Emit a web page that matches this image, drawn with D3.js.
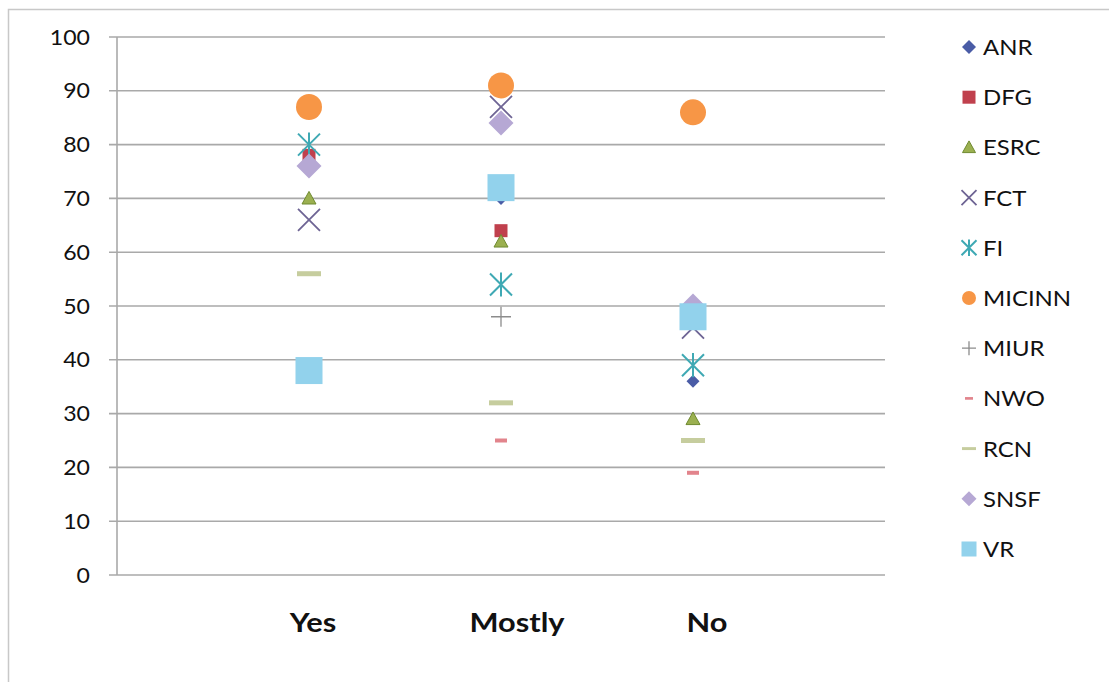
<!DOCTYPE html>
<html><head><meta charset="utf-8">
<script src="https://cdn.jsdelivr.net/npm/d3@7"></script>
<style>
html,body{margin:0;padding:0;background:#fff;}
text{font-family:Lato,"Open Sans",sans-serif;fill:#111;}
</style></head>
<body><svg id="c" width="1109" height="682"></svg>
<script>
const categories = ["Yes", "Mostly", "No"];
const seriesNames = ["ANR","DFG","ESRC","FCT","FI","MICINN","MIUR","NWO","RCN","SNSF","VR"];
const ANR    = [76, 70, 36];
const DFG    = [78, 64, 48];
const ESRC   = [70, 62, 29];
const FCT    = [66, 87, 46];
const FI     = [80, 54, 39];
const MICINN = [87, 91, 86];
const MIUR   = [38, 48, 48];
const NWO    = [38, 25, 19];
const RCN    = [56, 32, 25];
const SNSF   = [76, 84, 50];
const VR     = [38, 72, 48];
const yTicks = [0,10,20,30,40,50,60,70,80,90,100];

const seriesValues = [ANR,DFG,ESRC,FCT,FI,MICINN,MIUR,NWO,RCN,SNSF,VR];
const styles = {
  ANR:{shape:"diamond",size:13,fill:"#4a5ca6"},
  DFG:{shape:"square",size:13,fill:"#c0404d"},
  ESRC:{shape:"triangle",size:14,fill:"#9bb050",stroke:"#6f8a30"},
  FCT:{shape:"x",size:22,stroke:"#6e6494",sw:1.8},
  FI:{shape:"star",size:22,stroke:"#3fa9b4",sw:2},
  MICINN:{shape:"circle",size:26,fill:"#f79646"},
  MIUR:{shape:"plus",size:20,stroke:"#8c8c8c",sw:1.3},
  NWO:{shape:"dash",size:12,h:4,fill:"#e2848c"},
  RCN:{shape:"dash",size:24,h:5,fill:"#c6cd9e"},
  SNSF:{shape:"diamond",size:25,fill:"#b6a8d4"},
  VR:{shape:"square",size:27,fill:"#92d2ec"}
};
const legendStyles = {
  ANR:{size:14},DFG:{size:13},ESRC:{size:13},FCT:{size:15},FI:{size:15},MICINN:{size:14},
  MIUR:{size:14},NWO:{size:8},RCN:{size:14},SNSF:{size:15},VR:{size:15}
};
const labelShift = [4, 16, 14];

const svg = d3.select("#c");
svg.append("rect").attr("x",8.5).attr("y",9.5).attr("width",1120).attr("height",700)
  .attr("fill","#fff").attr("stroke","#c8c8c8").attr("stroke-width",1.5);

const x = d3.scaleLinear().domain([0,4]).range([117,885]);
const y = d3.scaleLinear().domain([0,100]).range([575,37]);

const grid = svg.append("g");
grid.selectAll("line").data(yTicks).join("line")
  .attr("x1",109).attr("x2",885).attr("y1",d=>y(d)).attr("y2",d=>y(d))
  .attr("stroke","#a9a9a9").attr("stroke-width",1.6);
svg.append("line").attr("x1",117).attr("x2",117).attr("y1",y(100)).attr("y2",y(0))
  .attr("stroke","#a9a9a9").attr("stroke-width",1.6);

function stext(g, px, py, str, size, anchor, weight, sx){
  g.append("text").attr("transform",`translate(${px},${py}) scale(${sx||1.1},1)`)
    .attr("text-anchor",anchor).attr("font-size",size).attr("font-weight",weight||400).text(str);
}
const yl = svg.append("g");
yTicks.forEach(t=>stext(yl, 90, y(t)+7.5, String(t), 21, "end"));
const xl = svg.append("g");
categories.forEach((c,i)=>stext(xl, x(i+1)+labelShift[i], 632, c, 27, "middle", 700, 1.14));

function drawMarker(g, st, s){
  const h = s/2;
  switch(st.shape){
    case "diamond": g.append("path").attr("d",`M0,${-h}L${h},0L0,${h}L${-h},0Z`).attr("fill",st.fill); break;
    case "square": g.append("rect").attr("x",-h).attr("y",-h).attr("width",s).attr("height",s).attr("fill",st.fill); break;
    case "triangle": g.append("path").attr("d",`M0,${-h}L${h},${h*0.8}L${-h},${h*0.8}Z`).attr("fill",st.fill).attr("stroke",st.stroke).attr("stroke-width",1); break;
    case "circle": g.append("circle").attr("r",h).attr("fill",st.fill); break;
    case "x": g.append("path").attr("d",`M${-h},${-h}L${h},${h}M${h},${-h}L${-h},${h}`).attr("stroke",st.stroke).attr("stroke-width",st.sw).attr("fill","none"); break;
    case "star": g.append("path").attr("d",`M${-h},${-h}L${h},${h}M${h},${-h}L${-h},${h}M0,${-h*1.1}L0,${h*1.1}`).attr("stroke",st.stroke).attr("stroke-width",st.sw).attr("fill","none"); break;
    case "plus": g.append("path").attr("d",`M${-h},0L${h},0M0,${-h}L0,${h}`).attr("stroke",st.stroke).attr("stroke-width",st.sw).attr("fill","none"); break;
    case "dash": { const hh = (st.h||4)*s/st.size; g.append("rect").attr("x",-h).attr("y",-hh/2).attr("width",s).attr("height",hh).attr("fill",st.fill); break; }
  }
}

const plot = svg.append("g");
seriesNames.forEach((name,si)=>{
  const st = styles[name];
  seriesValues[si].forEach((v,ci)=>{
    const g = plot.append("g").attr("transform",`translate(${x(ci+1)},${y(v)})`);
    drawMarker(g, st, st.size);
  });
});

const leg = svg.append("g");
const ly = d3.scalePoint().domain(seriesNames).range([47,549]);
seriesNames.forEach(name=>{
  const st = styles[name];
  const g = leg.append("g").attr("transform",`translate(969,${ly(name)})`);
  drawMarker(g, st, legendStyles[name].size);
  stext(leg, 983, ly(name)+8, name, 21, "start", 400, 1.14);
});
</script></body></html>
